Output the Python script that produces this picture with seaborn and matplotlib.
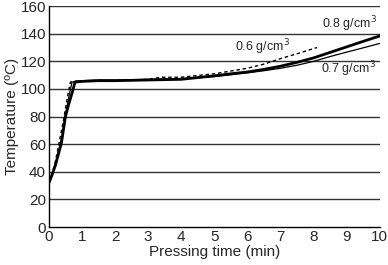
import pandas as pd
import seaborn as sns
import matplotlib.pyplot as plt

# 0.8 g/cm3 (thick line)
t_08 = [0, 0.1, 0.2, 0.3, 0.38, 0.5, 0.6, 0.7, 0.79, 1, 1.5, 2, 3, 4, 4.6, 5, 5.5, 6, 6.5, 7, 7.5, 8, 8.5, 9, 9.5, 10]
temp_08 = [32, 38, 45, 54, 61, 80, 89, 97, 105, 105.5, 106, 106, 106.5, 107, 108.5, 109.5, 111, 112.3, 114.2, 116.5, 119.3, 122.5, 126.5, 130.5, 134.5, 138.4]

# 0.7 g/cm3 (thin line)
t_07 = [0, 0.1, 0.2, 0.3, 0.4, 0.5, 0.6, 0.7, 0.8, 1, 1.5, 2, 3, 4, 4.6, 5, 5.5, 6, 6.5, 7, 7.5, 8, 8.5, 9, 9.5, 10]
temp_07 = [32, 38, 46, 56, 66, 81, 94, 105, 105.5, 106, 106.5, 106.5, 107, 107.5, 108.3, 109, 110.3, 111.7, 113.2, 115, 117.2, 120, 123.5, 126.7, 129.8, 133]

# 0.6 g/cm3 (dashed line)
t_06 = [0, 0.1, 0.2, 0.3, 0.46, 0.55, 0.65, 0.8, 1, 1.5, 2, 3, 3.4, 4, 4.6, 5, 5.5, 6, 6.5, 7, 7.5, 8.1]
temp_06 = [33, 39, 48, 60, 80, 93, 105, 105.5, 106, 106, 106, 107, 108.5, 108.5, 110, 111, 113, 115, 118, 122, 125.5, 130]

labels = ['0.8 g/cm$^3$', '0.6 g/cm$^3$', '0.7 g/cm$^3$']
label_pos = [(9.08, 147), (6.45, 130), (9.06, 114)]

sns.set_style('white')
plt.rcParams['font.family'] = ['Liberation Sans', 'DejaVu Sans']

fig = plt.figure(figsize=(3.88, 2.65), dpi=100)
ax = fig.add_axes([0.126, 0.143, 0.853, 0.834])

for y in range(20, 161, 20):
    ax.axhline(y, color='#333333', lw=1.0, zorder=0)

sns.lineplot(x=t_07, y=temp_07, ax=ax, color='black', lw=0.9)
sns.lineplot(x=t_06, y=temp_06, ax=ax, color='black', lw=1.0, linestyle=(0, (2.5, 2)))
sns.lineplot(x=t_08, y=temp_08, ax=ax, color='black', lw=2.0)

for txt, (x, y) in zip(labels, label_pos):
    ax.text(x, y, txt, fontsize=9, ha='center', va='center')

ax.set_xlim(0, 10)
ax.set_ylim(0, 160)
ax.set_xticks(range(0, 11))
ax.set_yticks(range(0, 161, 20))
ax.tick_params(axis='x', direction='in', length=4, width=0.8, labelsize=11, pad=2)
ax.tick_params(axis='y', length=0, labelsize=11, pad=2)
ax.set_xlabel('Pressing time (min)', fontsize=11, labelpad=1)
ax.set_ylabel('Temperature (ºC)', fontsize=11, labelpad=1.5)
for s in ['top', 'right']:
    ax.spines[s].set_visible(False)
for s in ['left', 'bottom']:
    ax.spines[s].set_color('black')
    ax.spines[s].set_linewidth(1.0)

fig.savefig('out.png', dpi=100)
